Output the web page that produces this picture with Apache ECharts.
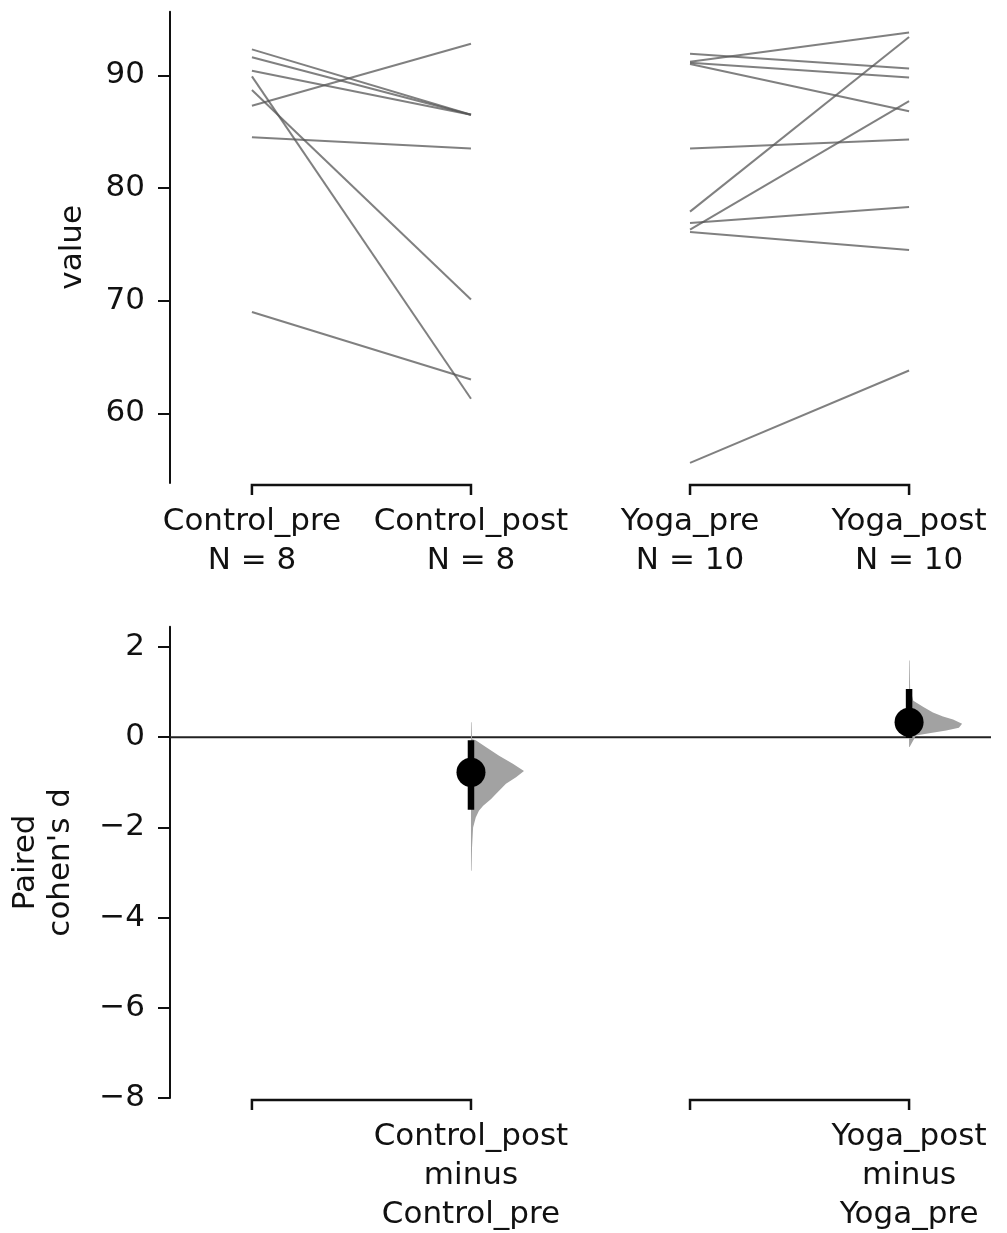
<!DOCTYPE html>
<html>
<head>
<meta charset="utf-8">
<script src="https://cdn.jsdelivr.net/npm/echarts@6/dist/echarts.min.js"></script>
<style>
  html, body { margin: 0; padding: 0; background: #fff; }
  #myChart { width: 1007px; height: 1233px; }
</style>
</head>
<body>
<div id="myChart"></div>
<script>
// groups on the x axis
var groupNames = ['Control_pre', 'Control_post', 'Yoga_pre', 'Yoga_post'];
var groupN = [8, 8, 10, 10];
var deltaLabels = ['', 'Control_post\nminus\nControl_pre', '', 'Yoga_post\nminus\nYoga_pre'];

var controlPre = [92.3, 91.6, 90.4, 89.9, 88.7, 87.3, 84.5, 69.0];
var controlPost = [86.5, 86.5, 86.5, 61.3, 70.1, 92.8, 83.5, 63.0];
var yogaPre = [91.9, 91.2, 91.1, 91.0, 83.5, 77.9, 76.9, 76.3, 76.1, 55.6];
var yogaPost = [90.6, 93.8, 89.8, 86.8, 84.3, 93.4, 78.3, 87.7, 74.5, 63.8];

// paired cohen's d: mean and 95% CI
var deltaX = [1, 3];
var deltaMean = [-0.78, 0.33];
var deltaLow = [-1.61, -0.02];
var deltaHigh = [-0.07, 1.07];

// bootstrap distributions (effect size, relative density)
var controlDistY = [0.33, -0.04, -0.07, -0.22, -0.41, -0.59, -0.75, -0.89, -1.03, -1.26, -1.37, -1.52, -1.63, -1.78, -2.0, -2.44, -2.96];
var controlDistW = [0.01, 0.02, 0.09, 0.28, 0.53, 0.79, 1.0, 0.85, 0.66, 0.47, 0.38, 0.23, 0.15, 0.09, 0.04, 0.02, 0.01];
var yogaDistY = [1.70, 1.07, 0.81, 0.67, 0.55, 0.46, 0.39, 0.30, 0.21, 0.15, 0.09, 0.04, -0.22];
var yogaDistW = [0.01, 0.02, 0.08, 0.27, 0.45, 0.64, 0.83, 1.0, 0.94, 0.70, 0.38, 0.13, 0.01];

var topTicks = [60, 70, 80, 90];
var bottomTicks = [-8, -6, -4, -2, 0, 2];

var FONT = 'DejaVu Sans';
var xMin = -0.374, xMax = 3.374;
var topMin = 53.82, topMax = 95.64;
var botMin = -8, botMax = 2.45;
var violinHalfWidth = 0.242;

var myChart = echarts.init(document.getElementById('myChart'));

function minusSign(v) {
  return String(v).replace('-', '\u2212');
}

function pairLines(pre, post, x0) {
  return pre.map(function (v, i) {
    return {
      type: 'line',
      xAxisIndex: 0, yAxisIndex: 0,
      symbol: 'none',
      silent: true,
      lineStyle: { color: 'rgba(85,85,85,0.75)', width: 2 },
      data: [[x0, v], [x0 + 1, post[i]]]
    };
  });
}

function bracketSeries(idx, yMinVal) {
  return {
    type: 'custom',
    xAxisIndex: idx, yAxisIndex: idx,
    clip: false,
    silent: true,
    data: [[0, 1], [2, 3]],
    renderItem: function (params, api) {
      var a = api.coord([api.value(0), yMinVal]);
      var b = api.coord([api.value(1), yMinVal]);
      var y = a[1] + 2;
      return {
        type: 'polyline',
        shape: { points: [[a[0], y + 10], [a[0], y], [b[0], y], [b[0], y + 10]] },
        style: { stroke: '#111', lineWidth: 2.5, fill: null }
      };
    }
  };
}

function violinSeries(x0, ys, ws) {
  return {
    type: 'custom',
    xAxisIndex: 1, yAxisIndex: 1,
    silent: true,
    z: 2,
    data: [[x0, ys[0]]],
    renderItem: function (params, api) {
      var pts = ys.map(function (y, i) {
        return api.coord([x0 + ws[i] * violinHalfWidth, y]);
      });
      pts.push(api.coord([x0, ys[ys.length - 1]]));
      pts.push(api.coord([x0, ys[0]]));
      return {
        type: 'polygon',
        shape: { points: pts },
        style: { fill: '#a2a2a2' }
      };
    }
  };
}

var axisLabelStyle = { fontFamily: FONT, fontSize: 31, color: '#111' };

var option = {
  animation: false,
  backgroundColor: '#fff',
  grid: [
    { left: 170, right: 16, top: 11.7, height: 471.3, outerBoundsMode: 'none' },
    { left: 170, right: 16, top: 626.7, height: 471.3, outerBoundsMode: 'none' }
  ],
  xAxis: [
    {
      gridIndex: 0, type: 'value', min: xMin, max: xMax,
      axisLine: { show: false, onZero: false }, axisTick: { show: false }, splitLine: { show: false },
      axisLabel: Object.assign({
        customValues: [0, 1, 2, 3],
        margin: 19,
        lineHeight: 39,
        formatter: function (v) {
          var i = Math.round(v);
          return groupNames[i] + '\nN = ' + groupN[i];
        }
      }, axisLabelStyle)
    },
    {
      gridIndex: 1, type: 'value', min: xMin, max: xMax,
      axisLine: { show: false, onZero: false }, axisTick: { show: false }, splitLine: { show: false },
      axisLabel: Object.assign({
        customValues: [1, 3],
        margin: 19,
        lineHeight: 39,
        formatter: function (v) {
          return deltaLabels[Math.round(v)];
        }
      }, axisLabelStyle)
    }
  ],
  yAxis: [
    {
      gridIndex: 0, type: 'value', min: topMin, max: topMax,
      name: 'value', nameLocation: 'middle', nameRotate: 90, nameGap: 82,
      nameTextStyle: { fontFamily: FONT, fontSize: 31, color: '#111' },
      splitLine: { show: false },
      axisLine: { show: true, onZero: false, lineStyle: { color: '#111', width: 2 } },
      axisTick: { show: true, customValues: topTicks, length: 12, lineStyle: { color: '#111', width: 2 } },
      axisLabel: Object.assign({ customValues: topTicks, margin: 25 }, axisLabelStyle)
    },
    {
      gridIndex: 1, type: 'value', min: botMin, max: botMax,
      name: 'Paired\ncohen\'s d', nameLocation: 'middle', nameRotate: 90, nameGap: 92,
      nameTextStyle: { fontFamily: FONT, fontSize: 31, color: '#111', lineHeight: 35 },
      splitLine: { show: false },
      axisLine: { show: true, onZero: false, lineStyle: { color: '#111', width: 2 } },
      axisTick: { show: true, customValues: bottomTicks, length: 12, lineStyle: { color: '#111', width: 2 } },
      axisLabel: Object.assign({ customValues: bottomTicks, margin: 25, formatter: minusSign }, axisLabelStyle)
    }
  ],
  series: []
    .concat(pairLines(controlPre, controlPost, 0))
    .concat(pairLines(yogaPre, yogaPost, 2))
    .concat([
      bracketSeries(0, topMin),
      bracketSeries(1, botMin),
      {
        type: 'line',
        xAxisIndex: 1, yAxisIndex: 1,
        symbol: 'none', silent: true, z: 1,
        lineStyle: { color: '#222', width: 2 },
        data: [[xMin, 0], [xMax, 0]]
      },
      violinSeries(deltaX[0], controlDistY, controlDistW),
      violinSeries(deltaX[1], yogaDistY, yogaDistW)
    ])
    .concat(deltaX.map(function (x, i) {
      return {
        type: 'line',
        xAxisIndex: 1, yAxisIndex: 1,
        symbol: 'none', silent: true, z: 4,
        lineStyle: { color: '#000', width: 6.5, cap: 'butt' },
        data: [[x, deltaLow[i]], [x, deltaHigh[i]]]
      };
    }))
    .concat([{
      type: 'scatter',
      xAxisIndex: 1, yAxisIndex: 1,
      symbol: 'circle', symbolSize: 29, silent: true, z: 5,
      itemStyle: { color: '#000', opacity: 1 },
      data: deltaX.map(function (x, i) { return [x, deltaMean[i]]; })
    }])
};

myChart.setOption(option);
</script>
</body>
</html>
